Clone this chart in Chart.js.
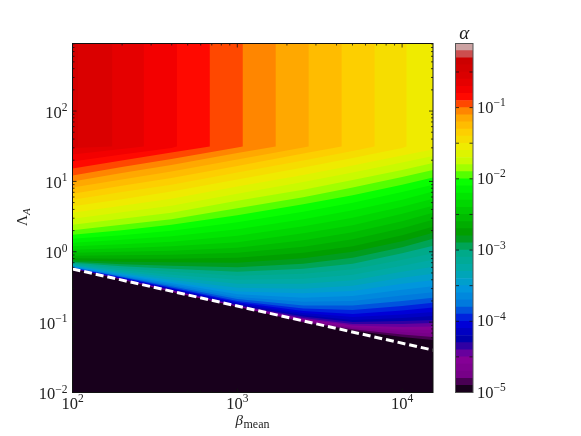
<!DOCTYPE html>
<html>
<head>
<meta charset="utf-8">
<script src="https://cdn.jsdelivr.net/npm/chart.js@4"></script>
<style>
    body { margin: 0; background: #fff; }
    canvas { position: absolute; top: 0; }
    #contourChart { left: 0; }
    #colorbarChart { left: 440px; }
</style>
</head>
<body>
<canvas id="contourChart" width="440" height="436"></canvas>
<canvas id="colorbarChart" width="141" height="436"></canvas>
<script>
const serif = '"Liberation Serif", serif'

const betaRange = [100, 15400]
const lambdaRange = [0.01, 912]

// log10(Lambda) of every alpha contour, read at these beta columns
const betaColumns = [100, 199, 398, 1000, 2512, 5012, 10000, 15400]
const contourLogLambda = [
    [-0.242, -0.399, -0.570, -0.783, -1.004, -1.118, -1.211, -1.254],
    [-0.242, -0.397, -0.567, -0.781, -0.993, -1.101, -1.175, -1.211],
    [-0.242, -0.396, -0.563, -0.778, -0.980, -1.085, -1.140, -1.161],
    [-0.242, -0.393, -0.558, -0.775, -0.969, -1.068, -1.104, -1.111],
    [-0.241, -0.390, -0.553, -0.769, -0.954, -1.047, -1.068, -1.061],
    [-0.239, -0.387, -0.547, -0.764, -0.940, -1.026, -1.026, -1.011],
    [-0.238, -0.385, -0.541, -0.755, -0.919, -0.997, -0.983, -0.969],
    [-0.236, -0.382, -0.536, -0.745, -0.897, -0.969, -0.940, -0.912],
    [-0.234, -0.377, -0.527, -0.734, -0.869, -0.926, -0.890, -0.855],
    [-0.231, -0.370, -0.520, -0.719, -0.840, -0.883, -0.833, -0.791],
    [-0.228, -0.363, -0.506, -0.698, -0.805, -0.826, -0.769, -0.726],
    [-0.224, -0.356, -0.491, -0.670, -0.762, -0.762, -0.698, -0.655],
    [-0.219, -0.349, -0.470, -0.641, -0.712, -0.698, -0.620, -0.577],
    [-0.214, -0.335, -0.449, -0.605, -0.655, -0.627, -0.541, -0.491],
    [-0.207, -0.321, -0.427, -0.563, -0.591, -0.556, -0.456, -0.406],
    [-0.199, -0.306, -0.399, -0.513, -0.527, -0.484, -0.370, -0.313],
    [-0.191, -0.285, -0.363, -0.456, -0.456, -0.406, -0.285, -0.214],
    [-0.182, -0.264, -0.328, -0.399, -0.385, -0.328, -0.199, -0.114],
    [-0.171, -0.235, -0.285, -0.342, -0.313, -0.249, -0.114, -0.021],
    [-0.157, -0.207, -0.242, -0.285, -0.242, -0.171, -0.021, 0.085],
    [-0.142, -0.178, -0.199, -0.221, -0.171, -0.085, 0.064, 0.185],
    [-0.121, -0.142, -0.150, -0.157, -0.093, 0, 0.150, 0.271],
    [-0.093, -0.100, -0.100, -0.085, -0.014, 0.078, 0.235, 0.356],
    [-0.057, -0.050, -0.043, -0.014, 0.071, 0.178, 0.335, 0.456],
    [-0.014, 0, 0.014, 0.057, 0.164, 0.278, 0.434, 0.556],
    [0.028, 0.050, 0.078, 0.135, 0.264, 0.377, 0.541, 0.655],
    [0.078, 0.107, 0.142, 0.228, 0.363, 0.484, 0.641, 0.755],
    [0.128, 0.171, 0.221, 0.321, 0.463, 0.591, 0.741, 0.855],
    [0.185, 0.235, 0.299, 0.420, 0.570, 0.698, 0.848, 0.954],
    [0.242, 0.306, 0.385, 0.520, 0.677, 0.805, 0.954, 1.054],
    [0.306, 0.385, 0.463, 0.620, 0.776, 0.912, 1.061, 1.161],
    [0.385, 0.470, 0.556, 0.726, 0.883, 1.019, 1.161, 1.261],
    [0.470, 0.563, 0.655, 0.826, 0.990, 1.125, 1.268, 1.360],
    [0.556, 0.655, 0.755, 0.926, 1.090, 1.225, 1.368, 1.453],
    [0.648, 0.748, 0.855, 1.026, 1.197, 1.332, 1.474],
    [0.741, 0.848, 0.954, 1.125, 1.296, 1.432],
    [0.826, 0.940, 1.047, 1.218, 1.396],
    [0.912, 1.026, 1.140, 1.311, 1.481],
    [0.997, 1.118, 1.232, 1.403],
    [1.083, 1.204, 1.318, 1.481],
    [1.182, 1.296, 1.410],
    [1.282, 1.382, 1.474],
    [1.382, 1.460],
    [1.474],
    [1.489],
    []
]

// the upper contours turn straight up at this beta, highest contour last
const saturationLogLambda = 1.496
const saturationBeta = [10640, 6808, 4295, 2710, 1710, 1079, 681, 430, 271, 174, 108, 100]

const boundaryBeta = [100, 15400]
const boundaryLambda = [0.57, 0.04]

const alphaExponents = [
    -5, -4.9, -4.8, -4.7, -4.6, -4.5, -4.4, -4.3, -4.2, -4.1,
    -4, -3.9, -3.8, -3.7, -3.6, -3.5, -3.4, -3.3, -3.2, -3.1,
    -3, -2.9, -2.8, -2.7, -2.6, -2.5, -2.4, -2.3, -2.2, -2.1,
    -2, -1.9, -1.8, -1.7, -1.6, -1.5, -1.4, -1.3, -1.2, -1.1,
    -1, -0.9, -0.8, -0.7, -0.6, -0.5, -0.4, -0.3, -0.2, -0.1
]
const alphaTickExponents = [-4.5, -4, -3.5, -3, -2.5, -2, -1.5, -1, -0.5]
const alphaLabelExponents = [-5, -4, -3, -2, -1]
const betaLabelExponents = [2, 3, 4]
const lambdaLabelExponents = [-2, -1, 0, 1, 2]

const colorStops = [
    [0, 0, 0], [119, 0, 136], [136, 0, 153], [0, 0, 170], [0, 0, 221], [0, 119, 221], [0, 153, 221],
    [0, 170, 170], [0, 170, 136], [0, 153, 0], [0, 187, 0], [0, 221, 0], [0, 255, 0], [187, 255, 0],
    [238, 238, 0], [255, 204, 0], [255, 153, 0], [255, 0, 0], [221, 0, 0], [204, 0, 0], [204, 204, 204]
]

const bandColor = i => {
    const t = (i + .5) / (alphaExponents.length - 1) * (colorStops.length - 1)
    const low = Math.floor(t)
    const mix = colorStops[low].map((c, n) => Math.round(c + (colorStops[low + 1][n] - c) * (t - low)))
    return `rgb(${mix.join(',')})`
}


const drawPower = (ctx, x, baseline, exponent, align) => {
    const sup = exponent < 0 ? '\u2212' + Math.abs(exponent) : String(exponent)
    ctx.fillStyle = '#222'
    ctx.textAlign = 'left'
    ctx.textBaseline = 'alphabetic'
    ctx.font = `16.5px ${serif}`
    const baseWidth = ctx.measureText('10').width
    ctx.font = `11.5px ${serif}`
    const total = baseWidth + ctx.measureText(sup).width
    const left = align === 'right' ? x - total : align === 'center' ? x - total / 2 : x
    ctx.fillText(sup, left + baseWidth, baseline - 6.5)
    ctx.font = `16.5px ${serif}`
    ctx.fillText('10', left, baseline)
}

const drawTick = (ctx, x1, y1, x2, y2) => {
    ctx.beginPath()
    ctx.moveTo(x1, y1)
    ctx.lineTo(x2, y2)
    ctx.stroke()
}

const isWholeLogTick = value => {
    const mantissa = value / Math.pow(10, Math.floor(Math.log10(value) + 1e-9))
    return Math.abs(mantissa - Math.round(mantissa)) < 1e-6
}

const isDecade = value => Math.abs(Math.log10(value) - Math.round(Math.log10(value))) < 1e-6

const contourFrame = {
    id: 'contourFrame',
    afterDatasetsDraw(chart) {
        const { ctx, chartArea: { left, right, top, bottom }, scales: { x, y } } = chart
        ctx.save()
        ctx.strokeStyle = '#111'
        ctx.lineWidth = .8
        x.ticks.filter(t => isWholeLogTick(t.value)).forEach(t => {
            const px = x.getPixelForValue(t.value)
            const len = isDecade(t.value) ? 4 : 2
            drawTick(ctx, px, bottom, px, bottom - len)
            drawTick(ctx, px, top, px, top + len)
        })
        y.ticks.filter(t => isWholeLogTick(t.value)).forEach(t => {
            const py = y.getPixelForValue(t.value)
            const len = isDecade(t.value) ? 4 : 2
            drawTick(ctx, left, py, left + len, py)
            drawTick(ctx, right, py, right - len, py)
        })
        ctx.lineWidth = 1
        ctx.strokeRect(left, top, right - left, bottom - top)

        betaLabelExponents.forEach(e => drawPower(ctx, x.getPixelForValue(Math.pow(10, e)), 408.5, e, 'center'))
        lambdaLabelExponents.forEach(e => drawPower(ctx, 67.5, y.getPixelForValue(Math.pow(10, e)) + 6.5, e, 'right'))

        ctx.fillStyle = '#222'
        ctx.textAlign = 'left'
        ctx.font = `italic 15px ${serif}`
        ctx.fillText('\u03b2', 235.5, 425)
        ctx.font = `12px ${serif}`
        ctx.fillText('mean', 243.5, 428)

        ctx.translate(27, 217)
        ctx.rotate(-Math.PI / 2)
        ctx.font = `15px ${serif}`
        ctx.fillText('\u039b', -9, 0)
        ctx.font = `italic 11px ${serif}`
        ctx.fillText('A', 2, 3)
        ctx.restore()
    }
}

const colorbarFrame = {
    id: 'colorbarFrame',
    afterDatasetsDraw(chart) {
        const { ctx, chartArea: { left, right, top, bottom }, scales: { y } } = chart
        ctx.save()
        ctx.strokeStyle = '#111'
        ctx.lineWidth = .8
        alphaTickExponents.forEach(e => {
            const py = y.getPixelForValue(Math.pow(10, e))
            drawTick(ctx, right, py, right - 3.5, py)
            drawTick(ctx, left, py, left + 3.5, py)
        })
        ctx.strokeStyle = '#555'
        ctx.lineWidth = 1
        ctx.strokeRect(left, top, right - left, bottom - top)
        alphaLabelExponents.forEach(e => drawPower(ctx, right + 4, y.getPixelForValue(Math.pow(10, e)) + 5, e, 'left'))
        ctx.fillStyle = '#222'
        ctx.textAlign = 'center'
        ctx.font = `italic 19px ${serif}`
        ctx.fillText('\u03b1', (left + right) / 2, 38.5)
        ctx.restore()
    }
}


const contourPoints = (row, index) => {
    const points = row.map((v, j) => ({ x: betaColumns[j], y: Math.pow(10, v) }))
    if (row.length < betaColumns.length) {
        const turn = saturationBeta[index - 34]
        points.push({ x: turn, y: Math.pow(10, saturationLogLambda) })
        points.push({ x: turn, y: lambdaRange[1] })
        points.push({ x: betaRange[1], y: lambdaRange[1] })
    }
    return points
}

const renderContourChart = () => {

    const bands = contourLogLambda.map((row, i) => ({
        data: contourPoints(row, i),
        backgroundColor: bandColor(i),
        borderWidth: 0,
        pointRadius: 0,
        tension: 0,
        fill: 'start'
    }))

    const boundary = {
        data: boundaryBeta.map((b, i) => ({ x: b, y: boundaryLambda[i] })),
        borderColor: '#fff',
        borderWidth: 3,
        borderDash: [8, 3.9],
        pointRadius: 0,
        fill: false
    }

    const logAxis = range => ({
        type: 'logarithmic',
        min: range[0],
        max: range[1],
        grid: { display: false },
        border: { display: false },
        ticks: { display: false, autoSkip: false }
    })

    const options = {
        responsive: false,
        animation: false,
        layout: { padding: { top: 43.5, right: 7 } },
        plugins: {
            legend: { display: false },
            tooltip: { enabled: false }
        },
        scales: {
            x: { ...logAxis(betaRange), afterFit: s => { s.height = 43.5 } },
            y: { ...logAxis(lambdaRange), afterFit: s => { s.width = 72.5 } }
        }
    }

    new Chart('contourChart', {
        type: 'line',
        data: { datasets: [boundary, ...bands] },
        options,
        plugins: [contourFrame]
    })
}


const renderColorbar = () => {

    const datasets = alphaExponents.slice(0, -1).map((e, i) => ({
        data: [[Math.pow(10, e), Math.pow(10, alphaExponents[i + 1])]],
        backgroundColor: bandColor(i),
        borderWidth: 0,
        grouped: false,
        barPercentage: 1,
        categoryPercentage: 1
    }))

    const options = {
        responsive: false,
        animation: false,
        layout: { padding: { top: 43.5, bottom: 43.5, left: 15.5, right: 108 } },
        plugins: {
            legend: { display: false },
            tooltip: { enabled: false }
        },
        scales: {
            x: { display: false },
            y: {
                type: 'logarithmic',
                min: Math.pow(10, alphaExponents[0]),
                max: Math.pow(10, alphaExponents[alphaExponents.length - 1]),
                grid: { display: false },
                border: { display: false },
                ticks: { display: false },
                afterFit: s => { s.width = 0 }
            }
        }
    }

    new Chart('colorbarChart', {
        type: 'bar',
        data: { labels: ['alpha'], datasets },
        options,
        plugins: [colorbarFrame]
    })
}


renderContourChart()
renderColorbar()
</script>
</body>
</html>
